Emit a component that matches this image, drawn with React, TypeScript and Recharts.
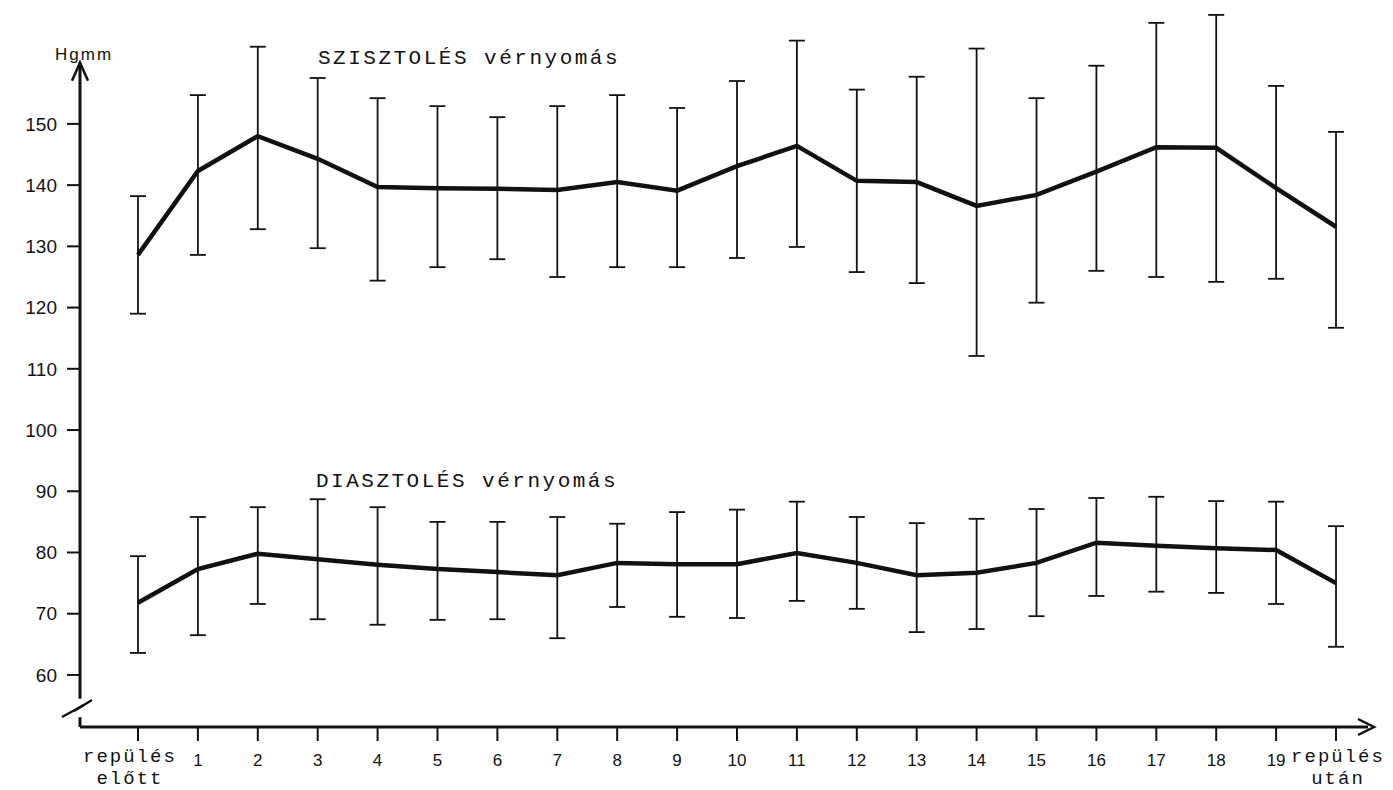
import React from 'react';
import { ComposedChart, Line, ErrorBar, XAxis, YAxis, ReferenceLine, ReferenceDot } from 'recharts';

// categories (x axis)
const categories = [
  'repülés előtt', '1', '2', '3', '4', '5', '6', '7', '8', '9', '10',
  '11', '12', '13', '14', '15', '16', '17', '18', '19', 'repülés után',
];

// systolic blood pressure (mean, lower and upper end of the bar)
const sysMean = [128.6, 142.3, 148.0, 144.3, 139.7, 139.5, 139.4, 139.2, 140.5, 139.1, 143.1, 146.4, 140.7, 140.5, 136.6, 138.4, 142.2, 146.2, 146.1, 139.5, 133.2];
const sysLow = [119.0, 128.6, 132.8, 129.7, 124.4, 126.6, 127.9, 125.0, 126.6, 126.6, 128.1, 129.9, 125.8, 124.0, 112.1, 120.8, 126.0, 125.0, 124.2, 124.7, 116.7];
const sysHigh = [138.2, 154.7, 162.6, 157.5, 154.2, 152.9, 151.1, 152.9, 154.7, 152.6, 157.0, 163.6, 155.6, 157.7, 162.3, 154.2, 159.5, 166.5, 167.8, 156.2, 148.7];

// diastolic blood pressure
const diaMean = [71.8, 77.3, 79.8, 78.9, 78.0, 77.3, 76.8, 76.3, 78.3, 78.1, 78.1, 79.9, 78.3, 76.3, 76.7, 78.3, 81.6, 81.1, 80.7, 80.4, 75.0];
const diaLow = [63.6, 66.5, 71.6, 69.1, 68.2, 69.0, 69.1, 66.0, 71.1, 69.5, 69.3, 72.1, 70.8, 67.0, 67.5, 69.6, 72.9, 73.6, 73.4, 71.6, 64.6];
const diaHigh = [79.4, 85.8, 87.4, 88.7, 87.4, 85.0, 85.0, 85.8, 84.7, 86.6, 87.0, 88.3, 85.8, 84.8, 85.5, 87.1, 88.9, 89.1, 88.4, 88.3, 84.3];

const yTicks = [60, 70, 80, 90, 100, 110, 120, 130, 140, 150];
const xTicks = categories.map((_, i) => i);

const data = categories.map((label, i) => ({
  idx: i,
  label,
  sys: sysMean[i],
  sysErr: [sysMean[i] - sysLow[i], sysHigh[i] - sysMean[i]],
  dia: diaMean[i],
  diaErr: [diaMean[i] - diaLow[i], diaHigh[i] - diaMean[i]],
}));

const X_MIN = -0.968;
const X_MAX = 20.534;
const Y_MIN = 51.5;
const Y_MAX = 168.6;
const INK = '#111';
const MONO = '"Liberation Mono", "DejaVu Sans Mono", monospace';
const SANS = '"Liberation Sans", Arial, sans-serif';

const XTick = (props: any) => {
  const { x, y, payload } = props;
  const i = payload.value as number;
  const label = categories[i];
  if (label && label.indexOf(' ') > 0) {
    const [a, b] = label.split(' ');
    const dx = i === 0 ? -8 : 2;
    return (
      <g>
        <text x={x + dx} y={y + 19} textAnchor="middle" fontFamily={MONO} fontSize={19} letterSpacing={2} fill={INK}>{a}</text>
        <text x={x + dx} y={y + 41} textAnchor="middle" fontFamily={MONO} fontSize={19} letterSpacing={2} fill={INK}>{b}</text>
      </g>
    );
  }
  return (
    <text x={x} y={y + 23} textAnchor="middle" fontFamily={SANS} fontSize={17} fill={INK}>{label}</text>
  );
};

const UpArrow = (props: any) => {
  const { cx, cy } = props;
  return <path d={`M${cx - 8},${cy + 18} L${cx},${cy} L${cx + 8},${cy + 18}`} stroke={INK} strokeWidth={2.5} fill="none" />;
};

const RightArrow = (props: any) => {
  const { cx, cy } = props;
  return <path d={`M${cx - 10},${cy - 8} L${cx + 6},${cy} L${cx - 10},${cy + 8}`} stroke={INK} strokeWidth={2.5} fill="none" />;
};

const AxisBreak = (props: any) => {
  const { cx, cy } = props;
  return (
    <g stroke={INK} strokeWidth={2.5}>
      <line x1={cx - 18} y1={cy + 9} x2={cx + 4} y2={cy - 3} />
      <line x1={cx - 6} y1={cy + 3} x2={cx + 12} y2={cy - 8} />
    </g>
  );
};

export default function App() {
  return (
    <div style={{ position: 'absolute', left: 0, top: 0, width: 1393, height: 790, background: '#fff' }}>
      <ComposedChart width={1393} height={790} data={data} margin={{ top: 10, right: 25, bottom: 13, left: 20 }}>
        <XAxis
          type="number"
          dataKey="idx"
          domain={[X_MIN, X_MAX]}
          allowDataOverflow
          ticks={xTicks}
          interval={0}
          axisLine={{ stroke: INK, strokeWidth: 3 }}
          tickLine={{ stroke: INK, strokeWidth: 2 }}
          tickSize={14}
          tickMargin={2}
          height={50}
          tick={<XTick />}
        />
        <YAxis
          type="number"
          domain={[Y_MIN, Y_MAX]}
          allowDataOverflow
          ticks={yTicks}
          interval={0}
          width={60}
          axisLine={false}
          tickLine={{ stroke: INK, strokeWidth: 2 }}
          tickSize={13}
          tickMargin={10}
          tick={{ fill: INK, fontSize: 19, fontFamily: SANS }}
        />
        <ReferenceLine segment={[{ x: X_MIN, y: Y_MIN }, { x: X_MIN, y: 53.1 }]} stroke={INK} strokeWidth={3} ifOverflow="visible" />
        <ReferenceLine segment={[{ x: X_MIN, y: 56.1 }, { x: X_MIN, y: 160.0 }]} stroke={INK} strokeWidth={3} ifOverflow="visible" />
        <ReferenceDot x={X_MIN} y={160.0} ifOverflow="visible" shape={<UpArrow />} />
        <ReferenceDot x={X_MAX} y={Y_MIN} ifOverflow="visible" shape={<RightArrow />} />
        <ReferenceDot x={X_MIN} y={54.6} ifOverflow="visible" shape={<AxisBreak />} />
        <Line type="linear" dataKey="sys" stroke={INK} strokeWidth={4.5} dot={false} isAnimationActive={false}>
          <ErrorBar dataKey="sysErr" direction="y" width={8} stroke={INK} strokeWidth={1.8} isAnimationActive={false} />
        </Line>
        <Line type="linear" dataKey="dia" stroke={INK} strokeWidth={4.5} dot={false} isAnimationActive={false}>
          <ErrorBar dataKey="diaErr" direction="y" width={8} stroke={INK} strokeWidth={1.8} isAnimationActive={false} />
        </Line>
      </ComposedChart>
      <svg width={1393} height={790} style={{ position: 'absolute', left: 0, top: 0, pointerEvents: 'none' }}>
        <text x={55} y={60} fontFamily={SANS} fontSize={17} letterSpacing={2} fill={INK}>Hgmm</text>
        <text x={318} y={64} fontFamily={MONO} fontSize={21} letterSpacing={2.5} fill={INK}>SZISZTOLÉS vérnyomás</text>
        <text x={316} y={487} fontFamily={MONO} fontSize={21} letterSpacing={2.5} fill={INK}>DIASZTOLÉS vérnyomás</text>
      </svg>
    </div>
  );
}
